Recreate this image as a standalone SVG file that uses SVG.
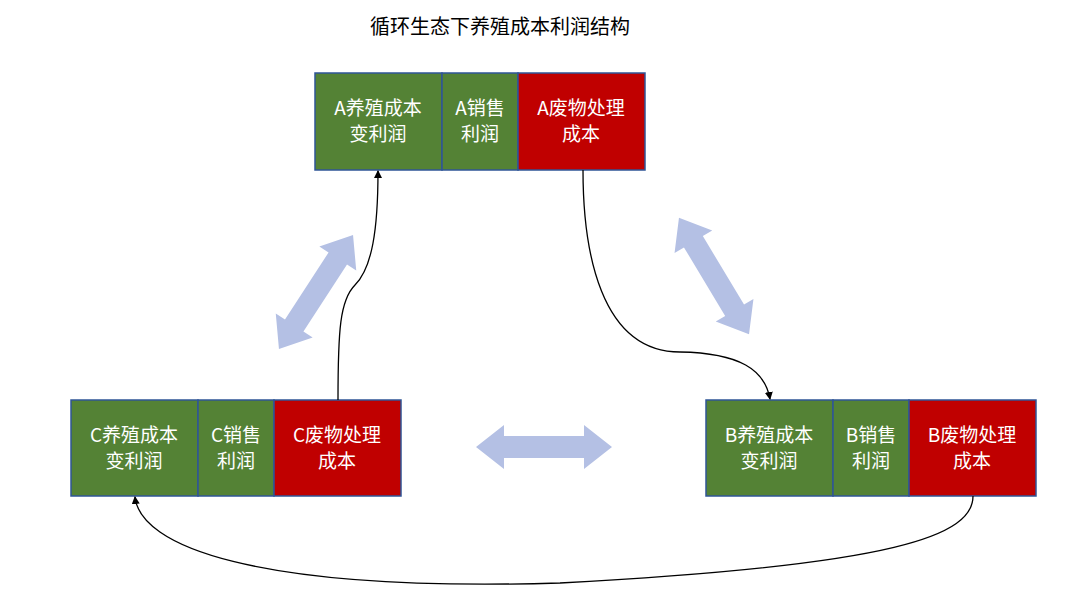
<svg xmlns="http://www.w3.org/2000/svg" width="1080" height="604" viewBox="0 0 1080 604">
<style>
.g{fill:#548235;stroke:#2F5597;stroke-width:1.5}
.r{fill:#C00000;stroke:#2F5597;stroke-width:1.5}
.t{font-family:"Noto Sans CJK SC","Liberation Sans",sans-serif;font-size:19px;fill:#fff;text-anchor:middle}
.c{fill:none;stroke:#000;stroke-width:1.3}
.d{fill:#B4C0E4}
</style>
<defs>
<marker id="a" markerWidth="8" markerHeight="8" refX="7" refY="4" orient="auto" markerUnits="userSpaceOnUse"><path d="M0,0 L8,4 L0,8 Z" fill="#000"/></marker>
<polygon id="dbl" points="-68,0 -40,-22 -40,-11 40,-11 40,-22 68,0 40,22 40,11 -40,11 -40,22"/>
</defs>
<rect width="1080" height="604" fill="#fff"/>
<text x="500" y="34" font-family="Noto Sans CJK SC,Liberation Sans,sans-serif" font-size="20" text-anchor="middle" fill="#000">循环生态下养殖成本利润结构</text>
<g id="nodeA">
<rect class="g" x="315" y="73" width="127" height="97"/><rect class="g" x="442" y="73" width="76" height="97"/><rect class="r" x="518" y="73" width="127" height="97"/>
<text class="t" x="378" y="115">A养殖成本</text><text class="t" x="378" y="141">变利润</text>
<text class="t" x="480" y="115">A销售</text><text class="t" x="480" y="141">利润</text>
<text class="t" x="581" y="115">A废物处理</text><text class="t" x="581" y="141">成本</text>
</g>
<g id="nodeC">
<rect class="g" x="71" y="400" width="127" height="96"/><rect class="g" x="198" y="400" width="76" height="96"/><rect class="r" x="274" y="400" width="127" height="96"/>
<text class="t" x="134" y="442">C养殖成本</text><text class="t" x="134" y="468">变利润</text>
<text class="t" x="236" y="442">C销售</text><text class="t" x="236" y="468">利润</text>
<text class="t" x="337" y="442">C废物处理</text><text class="t" x="337" y="468">成本</text>
</g>
<g id="nodeB">
<rect class="g" x="706" y="400" width="127" height="96"/><rect class="g" x="833" y="400" width="76" height="96"/><rect class="r" x="909" y="400" width="127" height="96"/>
<text class="t" x="769" y="442">B养殖成本</text><text class="t" x="769" y="468">变利润</text>
<text class="t" x="871" y="442">B销售</text><text class="t" x="871" y="468">利润</text>
<text class="t" x="972" y="442">B废物处理</text><text class="t" x="972" y="468">成本</text>
</g>
<g id="connectors">
<use href="#dbl" class="d" transform="translate(316,292) rotate(-57)"/>
<use href="#dbl" class="d" transform="translate(714,276) rotate(59)"/>
<use href="#dbl" class="d" transform="translate(544,447)"/>
<path class="c" marker-end="url(#a)" d="M338,400 C338,330 340,300 355,285 C372,268 378,230 378,171"/>
<path class="c" marker-end="url(#a)" d="M583,170 C583,250 600,352 680,352 C740,353 765,370 770,399"/>
<path class="c" marker-end="url(#a)" d="M973,496 C973,535 900,565 560,583 C250,592 140,545 135,497"/>
</g>
</svg>
